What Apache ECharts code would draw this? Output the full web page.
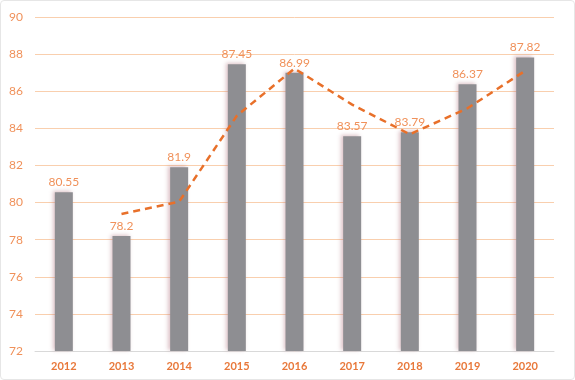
<!DOCTYPE html>
<html><head><meta charset="utf-8">
<script src="https://cdn.jsdelivr.net/npm/echarts@6/dist/echarts.min.js"></script>
<style>html,body{margin:0;padding:0;background:#fff}#c{width:575px;height:380px;box-sizing:border-box;border:1px solid #e6e6e6;border-radius:4px}</style>
</head><body><div id="c"></div>
<script>
const categories = ['2012','2013','2014','2015','2016','2017','2018','2019','2020'];
const values = [80.55, 78.2, 81.9, 87.45, 86.99, 83.57, 83.79, 86.37, 87.82];
const trend = [null, 79.38, 80.05, 84.68, 87.22, 85.28, 83.68, 85.08, 87.1];
const yTicks = [72, 74, 76, 78, 80, 82, 84, 86, 88, 90];

const chart = echarts.init(document.getElementById('c'));
chart.setOption({
  animation: false,
  grid: {left: 34, right: 20, top: 16, bottom: 28},
  xAxis: {
    type: 'category', data: categories,
    axisLine: {lineStyle: {color: '#d9d9d9'}},
    axisTick: {show: false},
    axisLabel: {color: '#e8783a', fontWeight: 'bold', fontSize: 11, fontFamily: 'Lato', margin: 10}
  },
  yAxis: {
    type: 'value', min: yTicks[0], max: yTicks[yTicks.length-1], interval: 2,
    axisLine: {show: false}, axisTick: {show: false},
    splitLine: {lineStyle: {color: '#f9cfae', width: 1}},
    axisLabel: {color: '#f0915a', fontSize: 12, fontFamily: 'Lato', margin: 12}
  },
  series: [{
    type: 'bar', data: values, barWidth: 18,
    itemStyle: {color: '#8e8e92', shadowColor: 'rgba(180,120,130,0.45)', shadowBlur: 4, shadowOffsetX: -2, shadowOffsetY: -1},
    label: {show: true, position: 'top', color: '#f0915a', fontSize: 12, fontFamily: 'Lato', distance: 4}
  }, {
    type: 'line', data: trend, symbol: 'none', z: 5,
    lineStyle: {color: '#e8702a', width: 2.5, type: [7, 5]}
  }]
});
</script></body></html>
